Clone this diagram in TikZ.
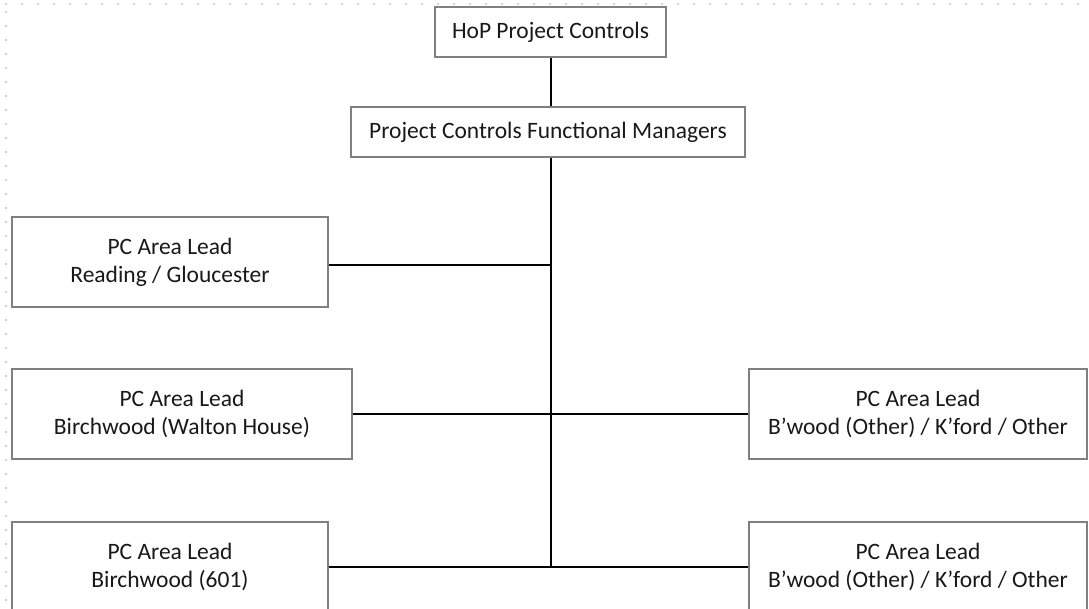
\documentclass[tikz,border=0pt]{standalone}
\usepackage{fontspec}
\setmainfont{Carlito}
\begin{document}
\begin{tikzpicture}[x=1pt,y=-1pt,
  box/.style={draw=black!50, line width=1.3pt, fill=white, align=center, inner sep=0pt,
    font=\fontsize{23.5}{28}\selectfont, text=black!90},
  conn/.style={draw=black, line width=2pt},
  gridline/.style={draw=black!18, line width=2pt}]
\useasboundingbox (0,0) rectangle (1089,608);
\fill[white] (0,0) rectangle (1089,608);
% faint dotted page border
\draw[gridline, dash pattern=on 2pt off 14pt] (5,4) -- (1089,4);
\draw[gridline, dash pattern=on 2pt off 12pt] (6,11) -- (6,608);
% nodes
\node[box, minimum width=231pt, minimum height=50pt] (hop) at (550.5,32) {HoP Project Controls};
\node[box, minimum width=394pt, minimum height=50pt] (pcfm) at (548,132) {Project Controls Functional Managers};
\node[box, minimum width=316pt, minimum height=90pt] (rg) at (170,262) {PC Area Lead\\Reading / Gloucester};
\node[box, minimum width=340pt, minimum height=90pt] (bw) at (182,414) {PC Area Lead\\Birchwood (Walton House)};
\node[box, minimum width=316pt, minimum height=90pt] (b601) at (170,567) {PC Area Lead\\Birchwood (601)};
\node[box, minimum width=338pt, minimum height=90pt] (r1) at (918,414) {PC Area Lead\\B’wood (Other) / K’ford / Other};
\node[box, minimum width=338pt, minimum height=90pt] (r2) at (918,567) {PC Area Lead\\B’wood (Other) / K’ford / Other};
\coordinate (tr) at (551,567);
\coordinate (j1) at (551,265);
% connectors
\draw[conn] (hop.south) -- (pcfm.north -| hop.south);
\draw[conn] (pcfm.south -| tr) -- (tr);
\draw[conn] (rg.east |- j1) -- (j1);
\draw[conn] (bw.east) -- (r1.west);
\draw[conn] (b601.east) -- (r2.west);
\end{tikzpicture}
\end{document}
